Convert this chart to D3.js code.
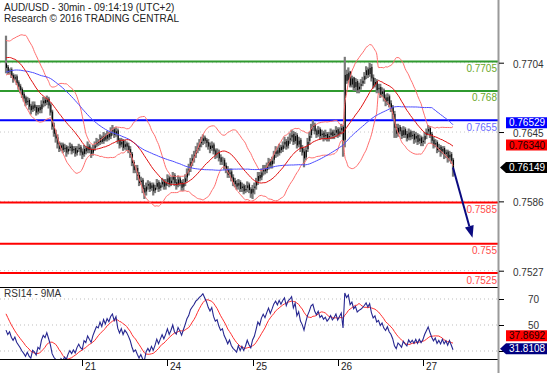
<!DOCTYPE html>
<html>
<head>
<meta charset="utf-8">
<script src="https://cdn.jsdelivr.net/npm/d3@7"></script>
<style>
  body { margin: 0; background: #fff; }
  svg { display: block; font-family: "Liberation Sans", Arial, sans-serif; }
</style>
</head>
<body>
<div id="chart"></div>
<script>
/*global d3*/

// ---- data (30 min bars) ----
var days = ["21", "24", "25", "26", "27"];
var dayStartBars = [43, 91, 139, 187, 235];

// earlier closes, off the left edge, only used to warm up the indicators
var priorCloses = [
  0.7668,0.7672,0.7670,0.7676,0.7681,0.7679,0.7684,0.7688,0.7685,0.7690,
  0.7687,0.7683,0.7679,0.7682,0.7686,0.7684,0.7689,0.7693,0.7691,0.7696,
  0.7694,0.7690,0.7687,0.7691,0.7695,0.7699,0.7697,0.7701,0.7698,0.7694,
  0.7690,0.7693,0.7697,0.7700,0.7704,0.7702,0.7707,0.7711,0.7708,0.7713,
  0.7716,0.7712,0.7718,0.7721,0.7717,0.7712,0.7715,0.7710,0.7706,0.7703
];

var closes = [
  0.7700,0.7696,0.7698,0.7693,0.7690,0.7692,0.7687,0.7684,0.7681,0.7677,
  0.7674,0.7670,0.7672,0.7667,0.7664,0.7668,0.7666,0.7662,0.7666,0.7664,
  0.7669,0.7672,0.7670,0.7673,0.7668,0.7662,0.7650,0.7644,0.7640,0.7635,
  0.7631,0.7634,0.7630,0.7632,0.7628,0.7631,0.7633,0.7629,0.7631,0.7627,
  0.7630,0.7632,0.7628,0.7626,0.7631,0.7629,0.7633,0.7630,0.7627,0.7631,
  0.7634,0.7637,0.7636,0.7640,0.7637,0.7642,0.7639,0.7643,0.7641,0.7645,
  0.7647,0.7643,0.7646,0.7638,0.7634,0.7637,0.7632,0.7635,0.7633,0.7630,
  0.7626,0.7619,0.7613,0.7614,0.7608,0.7602,0.7604,0.7597,0.7594,0.7599,
  0.7601,0.7597,0.7600,0.7595,0.7598,0.7602,0.7597,0.7600,0.7603,0.7599,
  0.7602,0.7606,0.7601,0.7604,0.7608,0.7602,0.7600,0.7605,0.7602,0.7598,
  0.7602,0.7606,0.7611,0.7614,0.7620,0.7623,0.7626,0.7630,0.7632,0.7635,
  0.7637,0.7640,0.7638,0.7636,0.7633,0.7631,0.7634,0.7629,0.7626,0.7627,
  0.7623,0.7620,0.7621,0.7616,0.7613,0.7609,0.7611,0.7606,0.7603,0.7601,
  0.7599,0.7602,0.7597,0.7599,0.7595,0.7597,0.7600,0.7596,0.7593,0.7597,
  0.7599,0.7603,0.7608,0.7606,0.7611,0.7614,0.7612,0.7616,0.7620,0.7617,
  0.7621,0.7626,0.7629,0.7627,0.7632,0.7630,0.7634,0.7637,0.7633,0.7638,
  0.7640,0.7643,0.7637,0.7642,0.7634,0.7638,0.7631,0.7628,0.7623,0.7630,
  0.7637,0.7642,0.7649,0.7651,0.7646,0.7643,0.7647,0.7642,0.7644,0.7641,
  0.7643,0.7640,0.7642,0.7645,0.7642,0.7644,0.7647,0.7643,0.7646,0.7649,
  0.7638,0.7694,0.7689,0.7696,0.7685,0.7691,0.7683,0.7688,0.7681,0.7684,
  0.7686,0.7689,0.7693,0.7698,0.7694,0.7700,0.7691,0.7685,0.7688,0.7681,
  0.7683,0.7677,0.7680,0.7674,0.7671,0.7675,0.7669,0.7666,0.7660,0.7649,
  0.7644,0.7649,0.7646,0.7642,0.7647,0.7643,0.7640,0.7645,0.7641,0.7643,
  0.7639,0.7642,0.7637,0.7640,0.7636,0.7638,0.7642,0.7645,0.7648,0.7643,
  0.7638,0.7634,0.7636,0.7630,0.7632,0.7628,0.7631,0.7626,0.7628,0.7623,
  0.7626,0.7621,0.76149
];

var highs = [
  0.7727,0.7702,0.7699,0.7700,0.7695,0.7694,0.7694,0.7689,0.7686,0.7683,
  0.7679,0.7676,0.7675,0.7674,0.7669,0.7671,0.7671,0.7668,0.7668,0.7668,
  0.7672,0.7675,0.7674,0.7676,0.7675,0.7670,0.7664,0.7653,0.7647,0.7643,
  0.7637,0.7636,0.7636,0.7635,0.7634,0.7633,0.7636,0.7635,0.7633,0.7633,
  0.7633,0.7635,0.7634,0.7631,0.7634,0.7633,0.7637,0.7635,0.7632,0.7634,
  0.7637,0.7640,0.7639,0.7643,0.7642,0.7645,0.7644,0.7646,0.7645,0.7649,
  0.7651,0.7649,0.7649,0.7648,0.7640,0.7640,0.7639,0.7638,0.7637,0.7636,
  0.7633,0.7628,0.7621,0.7617,0.7617,0.7611,0.7607,0.7606,0.7600,0.7602,
  0.7604,0.7603,0.7602,0.7602,0.7600,0.7605,0.7604,0.7602,0.7606,0.7605,
  0.7605,0.7609,0.7608,0.7607,0.7611,0.7610,0.7605,0.7608,0.7607,0.7604,
  0.7605,0.7609,0.7614,0.7618,0.7623,0.7626,0.7629,0.7633,0.7636,0.7639,
  0.7641,0.7643,0.7642,0.7640,0.7639,0.7636,0.7637,0.7636,0.7631,0.7631,
  0.7630,0.7626,0.7624,0.7623,0.7619,0.7616,0.7614,0.7614,0.7609,0.7606,
  0.7604,0.7605,0.7604,0.7602,0.7601,0.7600,0.7603,0.7602,0.7598,0.7600,
  0.7602,0.7606,0.7611,0.7611,0.7614,0.7617,0.7617,0.7619,0.7623,0.7622,
  0.7624,0.7629,0.7633,0.7632,0.7635,0.7634,0.7637,0.7641,0.7639,0.7641,
  0.7644,0.7647,0.7646,0.7645,0.7644,0.7641,0.7640,0.7634,0.7631,0.7633,
  0.7640,0.7645,0.7652,0.7655,0.7653,0.7648,0.7650,0.7649,0.7647,0.7646,
  0.7647,0.7645,0.7645,0.7648,0.7647,0.7647,0.7650,0.7649,0.7649,0.7652,
  0.7651,0.7709,0.7698,0.7700,0.7697,0.7693,0.7692,0.7691,0.7690,0.7687,
  0.7690,0.7692,0.7696,0.7701,0.7700,0.7704,0.7703,0.7694,0.7691,0.7690,
  0.7686,0.7686,0.7683,0.7682,0.7677,0.7678,0.7677,0.7672,0.7668,0.7663,
  0.7652,0.7652,0.7651,0.7649,0.7650,0.7649,0.7646,0.7648,0.7647,0.7646,
  0.7646,0.7645,0.7644,0.7643,0.7642,0.7641,0.7645,0.7648,0.7651,0.7650,
  0.7645,0.7641,0.7639,0.7638,0.7635,0.7634,0.7633,0.7633,0.7630,0.7630,
  0.7629,0.7628,0.7623
];

var lows = [
  0.7695,0.7694,0.7694,0.7691,0.7687,0.7689,0.7685,0.7681,0.7678,0.7674,
  0.7671,0.7667,0.7668,0.7664,0.7660,0.7662,0.7663,0.7659,0.7660,0.7661,
  0.7661,0.7666,0.7667,0.7668,0.7665,0.7659,0.7647,0.7641,0.7636,0.7631,
  0.7628,0.7629,0.7627,0.7628,0.7624,0.7626,0.7629,0.7626,0.7627,0.7624,
  0.7625,0.7628,0.7625,0.7622,0.7624,0.7626,0.7627,0.7627,0.7623,0.7625,
  0.7629,0.7632,0.7633,0.7634,0.7635,0.7635,0.7637,0.7637,0.7638,0.7639,
  0.7642,0.7640,0.7641,0.7635,0.7631,0.7632,0.7629,0.7630,0.7629,0.7627,
  0.7623,0.7616,0.7610,0.7610,0.7604,0.7599,0.7600,0.7593,0.7588,0.7591,
  0.7596,0.7594,0.7595,0.7591,0.7593,0.7596,0.7594,0.7595,0.7598,0.7596,
  0.7596,0.7599,0.7598,0.7599,0.7601,0.7599,0.7596,0.7598,0.7599,0.7595,
  0.7595,0.7599,0.7603,0.7608,0.7611,0.7616,0.7619,0.7623,0.7627,0.7629,
  0.7632,0.7634,0.7635,0.7632,0.7630,0.7627,0.7629,0.7626,0.7622,0.7623,
  0.7620,0.7617,0.7617,0.7613,0.7610,0.7606,0.7606,0.7603,0.7599,0.7598,
  0.7596,0.7596,0.7594,0.7594,0.7592,0.7593,0.7594,0.7593,0.7589,0.7588,
  0.7592,0.7596,0.7600,0.7603,0.7604,0.7608,0.7609,0.7610,0.7613,0.7614,
  0.7614,0.7618,0.7623,0.7624,0.7625,0.7627,0.7628,0.7631,0.7630,0.7631,
  0.7635,0.7637,0.7634,0.7635,0.7631,0.7632,0.7628,0.7625,0.7615,0.7621,
  0.7628,0.7634,0.7640,0.7646,0.7643,0.7640,0.7641,0.7639,0.7639,0.7637,
  0.7638,0.7637,0.7637,0.7639,0.7639,0.7639,0.7641,0.7640,0.7641,0.7643,
  0.7624,0.7632,0.7686,0.7687,0.7683,0.7683,0.7680,0.7680,0.7678,0.7678,
  0.7681,0.7684,0.7686,0.7690,0.7691,0.7692,0.7688,0.7682,0.7683,0.7678,
  0.7678,0.7674,0.7675,0.7671,0.7667,0.7668,0.7666,0.7662,0.7656,0.7640,
  0.7640,0.7641,0.7643,0.7639,0.7640,0.7640,0.7637,0.7638,0.7638,0.7639,
  0.7635,0.7636,0.7634,0.7635,0.7633,0.7633,0.7635,0.7639,0.7643,0.7640,
  0.7635,0.7631,0.7632,0.7627,0.7628,0.7624,0.7626,0.7622,0.7623,0.7619,
  0.7620,0.7618,0.7607
];

// support / resistance levels
var levelPrices = [0.7705, 0.768, 0.7655, 0.7585, 0.755, 0.7525];
var levelLabels = ["0.7705", "0.768", "0.7655", "0.7585", "0.755", "0.7525"];
var levelKinds  = ["res", "res", "pivot", "sup", "sup", "sup"];

var priceTicks = [0.7704, 0.7645, 0.7586, 0.7527];
var rsiTicks = [70, 50, 30];
var rsiTickLabels = ["70", "50", ""];

// last values printed in the right-hand tags
var lastMa50 = 0.76529, lastMa20 = 0.76340, lastClose = 0.76149;
var lastRsi = 31.8108, lastRsiMa = 37.8692;

// expected path drawn by the arrow
var arrowTarget = { bar: 263, price: 0.7555 };

// ---- setup ----
var width = 554, height = 373,
    plotRight = 498,
    mainBottom = 287,
    rsiBottom = 359;

var colors = { res: "#2f9a2f", pivot: "#0000ff", sup: "#ff0000" };
var labelColors = { res: "#6aa82a", pivot: "#6b6bff", sup: "#ff4a4a" };

var svg = d3.select("#chart").append("svg")
  .attr("width", width)
  .attr("height", height);

var x = d3.scaleLinear().domain([0, closes.length - 1]).range([6, 453]);
var y = d3.scaleLinear().domain([0.7527, 0.7704]).range([270.7, 62.7]);
var yR = d3.scaleLinear().domain([30, 70]).range([351, 299]);

var defs = svg.append("defs");
defs.append("clipPath").attr("id", "clipMain")
  .append("rect").attr("x", 0).attr("y", 0).attr("width", plotRight).attr("height", mainBottom);
defs.append("clipPath").attr("id", "clipRsi")
  .append("rect").attr("x", 0).attr("y", mainBottom).attr("width", plotRight).attr("height", rsiBottom - mainBottom);

// ---- indicators ----
var all = priorCloses.concat(closes),
    off = priorCloses.length;

function windowOf(n, i) {
  return all.slice(off + i - n + 1, off + i + 1);
}
function sma(n) {
  return closes.map(function(d, i) { return d3.mean(windowOf(n, i)); });
}
function band(n, k, sign) {
  return closes.map(function(d, i) {
    var w = windowOf(n, i), m = d3.mean(w);
    var sd = Math.sqrt(d3.mean(w, function(v) { return (v - m) * (v - m); }));
    return m + sign * k * sd;
  });
}

var ma20 = sma(20), ma50 = sma(50);
var bbUp = band(20, 2, 1), bbDn = band(20, 2, -1);

// RSI 14 (Wilder) + its 9 period average
var rsiAll = all.map(function() { return null; });
var g = 0, l = 0, ch, j;
for (j = 1; j <= 14; j++) {
  ch = all[j] - all[j - 1];
  if (ch > 0) g += ch; else l -= ch;
}
g /= 14; l /= 14;
rsiAll[14] = 100 - 100 / (1 + g / l);
for (j = 15; j < all.length; j++) {
  ch = all[j] - all[j - 1];
  g = (g * 13 + Math.max(ch, 0)) / 14;
  l = (l * 13 + Math.max(-ch, 0)) / 14;
  rsiAll[j] = l === 0 ? 100 : 100 - 100 / (1 + g / l);
}
var rsi = closes.map(function(d, i) { return rsiAll[off + i]; });
var rsiMa = closes.map(function(d, i) { return d3.mean(rsiAll.slice(off + i - 8, off + i + 1)); });

// ---- main panel ----
var main = svg.append("g").attr("clip-path", "url(#clipMain)");

main.selectAll(".grid")
  .data(priceTicks)
  .enter().append("line")
  .attr("x1", 0).attr("x2", plotRight)
  .attr("y1", function(d) { return y(d); })
  .attr("y2", function(d) { return y(d); })
  .style("stroke", "#c8c8c8")
  .style("stroke-dasharray", "1,3");

main.selectAll(".level")
  .data(levelPrices)
  .enter().append("line")
  .attr("x1", 0).attr("x2", plotRight)
  .attr("y1", function(d) { return y(d); })
  .attr("y2", function(d) { return y(d); })
  .style("stroke", function(d, i) { return colors[levelKinds[i]]; })
  .style("stroke-width", 2);

// bars: grey high-low range, black open-close
main.selectAll(".range")
  .data(closes)
  .enter().append("rect")
  .attr("x", function(d, i) { return x(i) - 1.1; })
  .attr("y", function(d, i) { return y(highs[i]); })
  .attr("width", 2.2)
  .attr("height", function(d, i) { return Math.max(1, y(lows[i]) - y(highs[i])); })
  .style("fill", "#7a7a7a");

main.selectAll(".body")
  .data(closes)
  .enter().append("line")
  .attr("x1", function(d, i) { return x(i) + 0.5; })
  .attr("x2", function(d, i) { return x(i) + 0.5; })
  .attr("y1", function(d, i) { return y(i === 0 ? priorCloses[off - 1] : closes[i - 1]) - 0.5; })
  .attr("y2", function(d) { return y(d) + 0.5; })
  .style("stroke", "#000")
  .style("stroke-width", 1);

var line = d3.line()
  .x(function(d, i) { return x(i); })
  .y(function(d) { return y(d); })
  .curve(d3.curveMonotoneX);

[[bbUp, "#ff6e6e"], [bbDn, "#ff6e6e"], [ma50, "#4d4dff"], [ma20, "#e01010"]].forEach(function(s) {
  main.append("path")
    .datum(s[0])
    .attr("d", line)
    .style("fill", "none")
    .style("stroke", s[1])
    .style("stroke-width", 1);
});

// arrow towards the target
var ax0 = x(closes.length - 1), ay0 = y(lastClose),
    ax1 = x(arrowTarget.bar), ay1 = y(arrowTarget.price);
var ang = Math.atan2(ay1 - ay0, ax1 - ax0),
    headL = 12, headW = 4.5;
var bx = ax1 - headL * Math.cos(ang), by = ay1 - headL * Math.sin(ang);
main.append("line")
  .attr("x1", ax0).attr("y1", ay0).attr("x2", bx).attr("y2", by)
  .style("stroke", "#0a0a80").style("stroke-width", 2);
main.append("path")
  .attr("d", "M" + ax1 + "," + ay1 +
    "L" + (bx + headW * Math.sin(ang)) + "," + (by - headW * Math.cos(ang)) +
    "L" + (bx - headW * Math.sin(ang)) + "," + (by + headW * Math.cos(ang)) + "Z")
  .style("fill", "#0a0a80");

// level labels
svg.selectAll(".levelLabel")
  .data(levelPrices)
  .enter().append("text")
  .attr("x", plotRight - 1)
  .attr("y", function(d) { return y(d) + 10.5; })
  .attr("text-anchor", "end")
  .style("font-size", "10px")
  .style("fill", function(d, i) { return labelColors[levelKinds[i]]; })
  .text(function(d, i) { return levelLabels[i]; });

// title
svg.append("text").attr("x", 4).attr("y", 11)
  .style("font-size", "10px").style("fill", "#222")
  .text("AUD/USD - 30min - 09:14:19 (UTC+2)");
svg.append("text").attr("x", 4).attr("y", 22)
  .style("font-size", "10px").style("fill", "#222")
  .text("Research \u00a9 2016 TRADING CENTRAL");

// ---- RSI panel ----
var rsiG = svg.append("g").attr("clip-path", "url(#clipRsi)");

rsiG.selectAll(".rgrid")
  .data(rsiTicks)
  .enter().append("line")
  .attr("x1", 0).attr("x2", plotRight)
  .attr("y1", function(d) { return yR(d); })
  .attr("y2", function(d) { return yR(d); })
  .style("stroke", "#bdbdbd")
  .style("stroke-dasharray", "1,3");

var rline = d3.line()
  .x(function(d, i) { return x(i); })
  .y(function(d) { return yR(d); });

rsiG.append("path").datum(rsiMa).attr("d", rline)
  .style("fill", "none").style("stroke", "#ff3030").style("stroke-width", 1);
rsiG.append("path").datum(rsi).attr("d", rline)
  .style("fill", "none").style("stroke", "#262690").style("stroke-width", 1.1);

svg.append("text").attr("x", 4).attr("y", 297)
  .style("font-size", "10px").style("fill", "#333")
  .text("RSI14 - 9MA");

// panel borders
[mainBottom, rsiBottom].forEach(function(v) {
  svg.append("line")
    .attr("x1", 0).attr("x2", plotRight)
    .attr("y1", v + 0.5).attr("y2", v + 0.5)
    .style("stroke", "#000");
});

// ---- axes ----
svg.append("line")
  .attr("x1", plotRight + 0.5).attr("x2", plotRight + 0.5)
  .attr("y1", 0).attr("y2", height)
  .style("stroke", "#9a9a9a").style("stroke-width", 2);

var yAxis = d3.axisRight(y).tickValues(priceTicks).tickSize(5).tickPadding(9)
  .tickFormat(d3.format(".4f"));
svg.append("g").attr("transform", "translate(" + (plotRight + 1) + ",0)")
  .call(yAxis)
  .call(function(a) {
    a.select(".domain").remove();
    a.selectAll("text").style("font-size", "10px").style("fill", "#333")
      .attr("dy", "0.45em")
      .style("font-family", "'Liberation Sans', Arial, sans-serif");
  });

var rAxis = d3.axisRight(yR).tickValues(rsiTicks).tickSize(5).tickPadding(24)
  .tickFormat(function(d, i) { return rsiTickLabels[i]; });
svg.append("g").attr("transform", "translate(" + (plotRight + 1) + ",0)")
  .call(rAxis)
  .call(function(a) {
    a.select(".domain").remove();
    a.selectAll("text").style("font-size", "10px").style("fill", "#333")
      .style("font-family", "'Liberation Sans', Arial, sans-serif");
  });

// day ticks along the bottom
var xt = svg.append("g");
xt.selectAll("line")
  .data(dayStartBars)
  .enter().append("line")
  .attr("x1", function(d) { return Math.round(x(d)) + 0.5; })
  .attr("x2", function(d) { return Math.round(x(d)) + 0.5; })
  .attr("y1", rsiBottom).attr("y2", rsiBottom + 7)
  .style("stroke", "#000");
xt.selectAll("text")
  .data(dayStartBars)
  .enter().append("text")
  .attr("x", function(d) { return Math.round(x(d)) + 3; })
  .attr("y", 370)
  .style("font-size", "10px")
  .style("fill", "#222")
  .text(function(d, i) { return days[i]; });

// ---- value tags ----
function tag(cy, txt, bg, fg, pointer) {
  var t = svg.append("g");
  var top = cy - 5.5, bot = cy + 5.5;
  t.append("path")
    .attr("d", pointer
      ? "M500," + cy + "L506," + top + "L547," + top + "L547," + bot + "L506," + bot + "Z"
      : "M506," + top + "L547," + top + "L547," + bot + "L506," + bot + "Z")
    .style("fill", bg);
  t.append("text")
    .attr("x", 527).attr("y", cy + 3.6)
    .attr("text-anchor", "middle")
    .style("font-size", "10px")
    .style("fill", fg)
    .text(txt);
}

tag(y(lastMa50), lastMa50.toFixed(5), "#0000ff", "#fff", false);
tag(y(lastMa20), lastMa20.toFixed(5), "#ff0000", "#200000", false);
tag(y(lastClose), lastClose.toFixed(5), "#000", "#fff", true);

var rsiCy = yR(lastRsi);
tag(Math.min(yR(lastRsiMa), rsiCy - 13), lastRsiMa.toFixed(4), "#ff0000", "#200000", false);
tag(rsiCy, lastRsi.toFixed(4), "#000080", "#fff", true);
</script>
</body>
</html>
